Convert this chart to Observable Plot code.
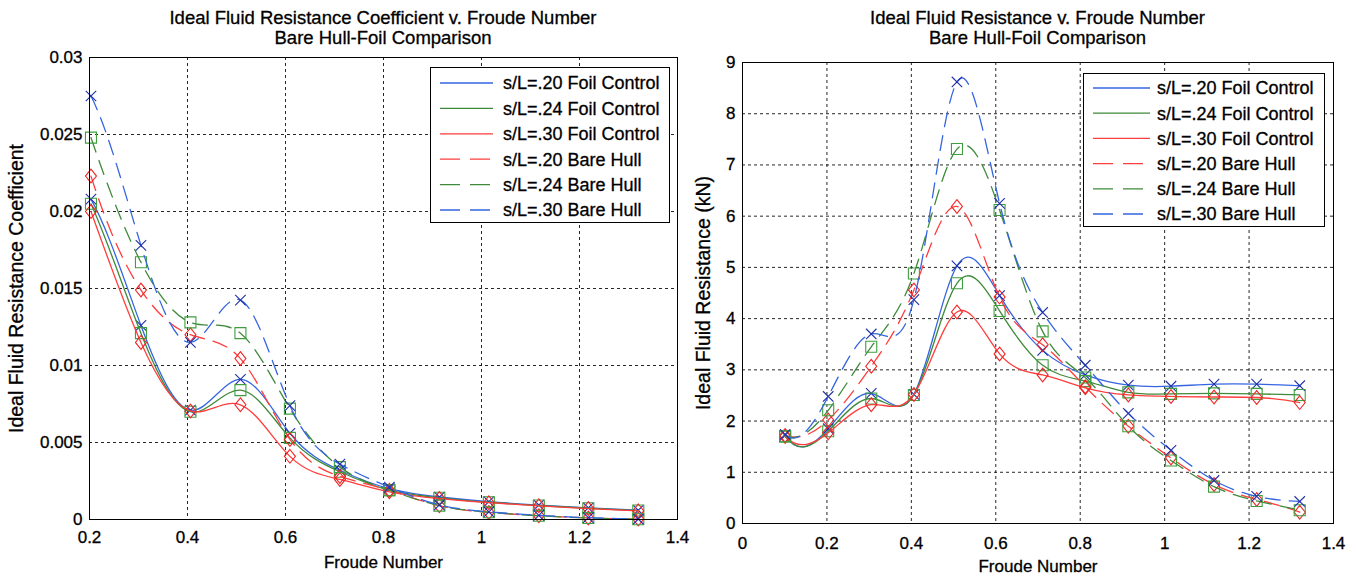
<!DOCTYPE html>
<html><head><meta charset="utf-8">
<script src="https://cdn.jsdelivr.net/npm/d3@7"></script>
<script src="https://cdn.jsdelivr.net/npm/@observablehq/plot@0.6"></script>
<style>
body{margin:0;background:#fff;font-family:"Liberation Sans",Arial,sans-serif;}
#root{position:relative;width:1356px;height:576px;overflow:hidden;background:#fff;}
.chart{position:absolute;top:0;}
.chart text{stroke:#000;stroke-width:0.3px;}
.title{position:absolute;text-align:center;font-size:18.5px;line-height:20px;color:#000;white-space:nowrap;-webkit-text-stroke:0.3px #000;}
.legend{position:absolute;}
.legend text{stroke:#000;stroke-width:0.3px;}
</style></head><body><div id="root"></div>
<script>
// ---------- data ----------
const seriesNames = ["s/L=.20 Foil Control","s/L=.24 Foil Control","s/L=.30 Foil Control","s/L=.20 Bare Hull","s/L=.24 Bare Hull","s/L=.30 Bare Hull"];
const seriesColors = ["#3565e0","#3f8a3a","#ff3d3d","#ff3d3d","#3f8a3a","#3565e0"];
const markerColors = ["#1f2fa8","#3f9f3f","#f02525","#f02525","#3f9f3f","#1f2fa8"];
const seriesMarkers = ["times","square","diamond","diamond","square","times"];
const seriesDashed = [false,false,false,true,true,true];

const froudeLeft = [0.203,0.305,0.406,0.508,0.609,0.711,0.812,0.914,1.015,1.117,1.218,1.320];
const coefFoil20 = [0.0208,0.0126,0.0071,0.0091,0.0056,0.0032,0.0020,0.00146,0.00116,0.00094,0.00076,0.00060];
const coefFoil24 = [0.0205,0.0121,0.0070,0.0084,0.0053,0.0031,0.0019,0.00141,0.00112,0.00091,0.00073,0.00058];
const coefFoil30 = [0.0200,0.0115,0.00705,0.00745,0.0041,0.0026,0.0018,0.00136,0.00109,0.00089,0.00071,0.00056];
const coefBare20 = [0.0223,0.0149,0.0120,0.01045,0.0052,0.0028,0.0019,0.0009,0.00046,0.00025,0.00010,0.00003];
const coefBare24 = [0.0248,0.0167,0.0128,0.0121,0.0072,0.0034,0.0019,0.0009,0.00047,0.00024,0.00010,0.00002];
const coefBare30 = [0.0275,0.0178,0.0115,0.01425,0.0074,0.0036,0.0021,0.00095,0.00050,0.00027,0.00012,0.00003];

const froudeRight = [0.101,0.203,0.305,0.406,0.508,0.609,0.711,0.812,0.914,1.015,1.117,1.218,1.320];
const resFoil20 = [1.72,1.85,2.54,2.52,5.03,4.45,3.38,2.90,2.70,2.68,2.72,2.72,2.69];
const resFoil24 = [1.70,1.80,2.44,2.51,4.69,4.15,3.09,2.78,2.56,2.53,2.54,2.53,2.51];
const resFoil30 = [1.70,1.77,2.32,2.52,4.13,3.31,2.90,2.65,2.51,2.48,2.47,2.46,2.36];
const resBare20 = [1.72,2.02,3.07,4.56,6.19,4.42,3.49,2.67,1.90,1.28,0.76,0.47,0.22];
const resBare24 = [1.70,2.21,3.45,4.88,7.31,6.12,3.75,2.85,1.90,1.23,0.72,0.44,0.26];
const resBare30 = [1.74,2.48,3.70,4.37,8.62,6.25,4.12,3.09,2.15,1.43,0.84,0.53,0.43];

const leftXTicks = [0.2,0.4,0.6,0.8,1.0,1.2,1.4];
const leftYTicks = [0,0.005,0.01,0.015,0.02,0.025,0.03];
const rightXTicks = [0,0.2,0.4,0.6,0.8,1.0,1.2,1.4];
const rightYTicks = [0,1,2,3,4,5,6,7,8,9];

const leftTitle = ["Ideal Fluid Resistance Coefficient v. Froude Number","Bare Hull-Foil Comparison"];
const rightTitle = ["Ideal Fluid Resistance v. Froude Number","Bare Hull-Foil Comparison"];
const xLabel = "Froude Number";
const leftYLabel = "Ideal Fluid Resistance Coefficient";
const rightYLabel = "Ideal Fluid Resistance (kN)";

// ---------- helpers ----------
function toRows(fn, arrays){
  const rows = [];
  arrays.forEach((arr, s) => arr.forEach((v, i) => rows.push({series: s, fn: fn[i], v})));
  return rows;
}
function solve(A, b){
  const n = b.length; A = A.map(r => r.slice()); b = b.slice();
  for (let c = 0; c < n; c++){
    let p = c; for (let r = c+1; r < n; r++) if (Math.abs(A[r][c]) > Math.abs(A[p][c])) p = r;
    [A[c], A[p]] = [A[p], A[c]]; [b[c], b[p]] = [b[p], b[c]];
    for (let r = c+1; r < n; r++){
      const f = A[r][c] / A[c][c]; if (!f) continue;
      for (let k = c; k < n; k++) A[r][k] -= f*A[c][k];
      b[r] -= f*b[c];
    }
  }
  const x = new Array(n).fill(0);
  for (let r = n-1; r >= 0; r--){ let s = b[r]; for (let k = r+1; k < n; k++) s -= A[r][k]*x[k]; x[r] = s/A[r][r]; }
  return x;
}
// cubic spline with not-a-knot end conditions (as MATLAB's spline)
function splineCurve(context){
  let xs, ys;
  return {
    areaStart(){}, areaEnd(){},
    lineStart(){ xs = []; ys = []; },
    point(x, y){ xs.push(+x); ys.push(+y); },
    lineEnd(){
      const n = xs.length; if (!n) return;
      context.moveTo(xs[0], ys[0]);
      if (n < 4){ for (let i = 1; i < n; i++) context.lineTo(xs[i], ys[i]); return; }
      const h = []; for (let i = 0; i < n-1; i++) h.push(xs[i+1]-xs[i]);
      const A = Array.from({length:n}, () => new Array(n).fill(0)); const b = new Array(n).fill(0);
      A[0][0] = h[1]; A[0][1] = -(h[0]+h[1]); A[0][2] = h[0];
      for (let i = 1; i < n-1; i++){
        A[i][i-1] = h[i-1]; A[i][i] = 2*(h[i-1]+h[i]); A[i][i+1] = h[i];
        b[i] = 6*((ys[i+1]-ys[i])/h[i] - (ys[i]-ys[i-1])/h[i-1]);
      }
      A[n-1][n-3] = h[n-2]; A[n-1][n-2] = -(h[n-3]+h[n-2]); A[n-1][n-1] = h[n-3];
      const M = solve(A, b);
      for (let i = 0; i < n-1; i++){
        const hi = h[i], s = (ys[i+1]-ys[i])/hi;
        const d0 = s - hi*(2*M[i]+M[i+1])/6;
        const d1 = s + hi*(M[i]+2*M[i+1])/6;
        context.bezierCurveTo(xs[i]+hi/3, ys[i]+d0*hi/3, xs[i+1]-hi/3, ys[i+1]-d1*hi/3, xs[i+1], ys[i+1]);
      }
    }
  };
}
const symbols = {
  times: {draw(ctx, size){const r=Math.sqrt(size/Math.PI)*0.95; ctx.moveTo(-r,-r); ctx.lineTo(r,r); ctx.moveTo(-r,r); ctx.lineTo(r,-r);}},
  square: {draw(ctx, size){const r=Math.sqrt(size/Math.PI); ctx.moveTo(-r,-r); ctx.lineTo(r,-r); ctx.lineTo(r,r); ctx.lineTo(-r,r); ctx.closePath();}},
  diamond: {draw(ctx, size){const r=Math.sqrt(size/Math.PI); const w=r*1.0, h=r*1.25; ctx.moveTo(0,-h); ctx.lineTo(w,0); ctx.lineTo(0,h); ctx.lineTo(-w,0); ctx.closePath();}}
};
const fmt = d => String(+(+d).toFixed(4));

function makeChart(o){
  const rows = toRows(o.fn, o.arrays);
  const marks = [
    Plot.gridX(o.xTicks, {stroke:"#000", strokeOpacity:0.85, strokeWidth:1, strokeDasharray:"3,3"}),
    Plot.gridY(o.yTicks, {stroke:"#000", strokeOpacity:0.85, strokeWidth:1, strokeDasharray:"3,3"}),
    Plot.axisX(o.xTicks, {tickSize:0, tickPadding:o.xTickPad, tickFormat:fmt, fontSize:17, label:xLabel, labelAnchor:"center", labelOffset:o.xLabelOffset, labelArrow:"none"}),
    Plot.axisY(o.yTicks, {tickSize:0, tickPadding:7, tickFormat:fmt, fontSize:17, label:null}),
    Plot.axisY(o.yTicks, {tickSize:0, tickFormat:() => "", fontSize:19.5, label:o.yLabel, labelAnchor:"center", labelOffset:o.yLabelOffset, labelArrow:"none"})
  ];
  seriesNames.forEach((name, s) => {
    const d = rows.filter(r => r.series === s);
    marks.push(Plot.line(d, {x:"fn", y:"v", curve:splineCurve, stroke:seriesColors[s], strokeWidth:1.3,
      strokeDasharray: seriesDashed[s] ? "15,9" : null}));
    marks.push(Plot.dot(d, {x:"fn", y:"v", symbol:symbols[seriesMarkers[s]], r:5.5, fill:"none", stroke:markerColors[s], strokeWidth:1.1}));
  });
  marks.push(Plot.frame({stroke:"#000", strokeWidth:1}));
  const svg = Plot.plot({
    width:o.width, height:576,
    marginLeft:o.ml, marginRight:o.mr, marginTop:o.mt, marginBottom:o.mb,
    style:{fontFamily:"'Liberation Sans', Arial, sans-serif", fontSize:"18px", color:"#000", background:"transparent", overflow:"visible"},
    x:{domain:o.xDomain},
    y:{domain:o.yDomain},
    marks
  });
  svg.classList.add("chart");
  svg.style.left = o.left + "px";
  return svg;
}

function makeLegend(o){
  const ns = "http://www.w3.org/2000/svg";
  const svg = document.createElementNS(ns, "svg");
  svg.setAttribute("width", o.w); svg.setAttribute("height", o.h);
  svg.setAttribute("class", "legend");
  svg.style.left = o.x + "px"; svg.style.top = o.y + "px";
  const rect = document.createElementNS(ns, "rect");
  rect.setAttribute("x", 0.5); rect.setAttribute("y", 0.5); rect.setAttribute("width", o.w-1); rect.setAttribute("height", o.h-1);
  rect.setAttribute("fill", "#fff"); rect.setAttribute("stroke", "#000"); svg.appendChild(rect);
  seriesNames.forEach((name, s) => {
    const cy = o.row0 + s*o.dy;
    const ln = document.createElementNS(ns, "line");
    ln.setAttribute("x1", o.lx1); ln.setAttribute("x2", o.lx2); ln.setAttribute("y1", cy); ln.setAttribute("y2", cy);
    ln.setAttribute("stroke", seriesColors[s]); ln.setAttribute("stroke-width", 1.3);
    if (seriesDashed[s]) ln.setAttribute("stroke-dasharray", o.dash);
    svg.appendChild(ln);
    const t = document.createElementNS(ns, "text");
    t.setAttribute("x", o.tx); t.setAttribute("y", cy); t.setAttribute("dy", "0.35em");
    t.setAttribute("font-size", "18"); t.setAttribute("font-family", "'Liberation Sans', Arial, sans-serif");
    t.textContent = name; svg.appendChild(t);
  });
  return svg;
}

function makeTitle(lines, left, width, top){
  const div = document.createElement("div");
  div.className = "title";
  div.style.left = left + "px"; div.style.width = width + "px"; div.style.top = top + "px";
  div.innerHTML = lines.map(l => `<div>${l}</div>`).join("");
  return div;
}

const root = document.getElementById("root");
root.appendChild(makeChart({
  fn: froudeLeft, arrays:[coefFoil20,coefFoil24,coefFoil30,coefBare20,coefBare24,coefBare30],
  xTicks:leftXTicks, yTicks:leftYTicks, xDomain:[0.2,1.4], yDomain:[0,0.03],
  width:690, left:0, ml:89, mr:13, mt:57, mb:57,
  yLabel:leftYLabel, yLabelOffset:80, xLabelOffset:48, xTickPad:11
}));
root.appendChild(makeChart({
  fn: froudeRight, arrays:[resFoil20,resFoil24,resFoil30,resBare20,resBare24,resBare30],
  xTicks:rightXTicks, yTicks:rightYTicks, xDomain:[0,1.4], yDomain:[0,9],
  width:666, left:690, ml:52, mr:23, mt:62, mb:53,
  yLabel:rightYLabel, yLabelOffset:46, xLabelOffset:48, xTickPad:13
}));
root.appendChild(makeTitle(leftTitle, 89, 588, 8));
root.appendChild(makeTitle(rightTitle, 742, 591, 8));
root.appendChild(makeLegend({x:430, y:67, w:240, h:156, row0:16, dy:25.4, lx1:10, lx2:63, tx:73, dash:"20,10"}));
root.appendChild(makeLegend({x:1083, y:73, w:242, h:154, row0:15, dy:25.2, lx1:10, lx2:67, tx:74, dash:"20,10"}));
</script></body></html>
